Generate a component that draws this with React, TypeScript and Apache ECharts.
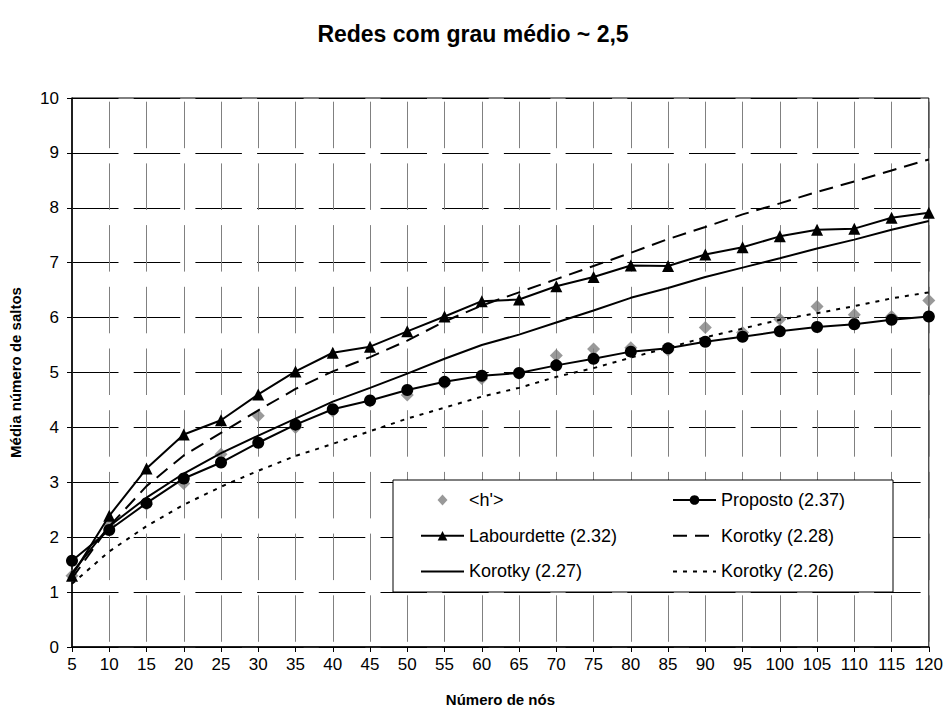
import React, { useEffect, useRef } from "react";
import * as echarts from "echarts";

// Network sizes (x axis)
const nodes = [5, 10, 15, 20, 25, 30, 35, 40, 45, 50, 55, 60, 65, 70, 75, 80, 85, 90, 95, 100, 105, 110, 115, 120];

// Average hop counts per method
const hPrime = [1.30, 2.23, 2.60, 2.98, 3.51, 4.21, 4.00, 4.30, 4.48, 4.59, 4.80, 4.89, 4.98, 5.31, 5.43, 5.45, 5.41, 5.82, 5.73, 5.97, 6.20, 6.05, 6.02, 6.31];
const proposto = [1.57, 2.13, 2.62, 3.07, 3.36, 3.72, 4.05, 4.33, 4.49, 4.68, 4.83, 4.94, 4.99, 5.13, 5.25, 5.38, 5.44, 5.56, 5.65, 5.75, 5.83, 5.88, 5.96, 6.02];
const labourdette = [1.30, 2.39, 3.25, 3.87, 4.13, 4.60, 5.02, 5.36, 5.47, 5.75, 6.02, 6.30, 6.33, 6.57, 6.74, 6.95, 6.94, 7.15, 7.28, 7.48, 7.60, 7.62, 7.82, 7.91];
const korotky228 = [1.25, 2.20, 2.93, 3.49, 3.90, 4.31, 4.70, 5.02, 5.28, 5.58, 5.93, 6.22, 6.46, 6.70, 6.94, 7.18, 7.43, 7.65, 7.88, 8.08, 8.29, 8.48, 8.68, 8.88];
const korotky227 = [1.35, 2.20, 2.72, 3.16, 3.53, 3.85, 4.16, 4.47, 4.72, 4.98, 5.25, 5.50, 5.69, 5.91, 6.13, 6.36, 6.54, 6.74, 6.91, 7.08, 7.26, 7.42, 7.60, 7.76];
const korotky226 = [1.15, 1.74, 2.20, 2.59, 2.92, 3.21, 3.48, 3.70, 3.93, 4.16, 4.36, 4.56, 4.72, 4.92, 5.08, 5.27, 5.45, 5.64, 5.80, 5.96, 6.08, 6.21, 6.35, 6.46];

const yTicks = [0, 1, 2, 3, 4, 5, 6, 7, 8, 9, 10];

const FONT = "'Liberation Sans', Arial, sans-serif";

// diamond legend sample; the corner specks stretch the bounding box to the full item size
const DIAMOND_ICON =
  "path://M0,0L0.01,0L0,0.01Z M43,12L42.99,12L43,11.99Z M16.5,6L21.5,0.5L26.5,6L21.5,11.5Z";

const pairs = (ys: number[]) => nodes.map((x, i) => [x, ys[i]]);

export default function App() {
  const ref = useRef<HTMLDivElement>(null);

  useEffect(() => {
    if (!ref.current) return;
    const chart = echarts.init(ref.current, undefined, { renderer: "svg" });

    const lineBase = {
      type: "line" as const,
      smooth: false,
      lineStyle: { color: "#000", width: 2 },
      itemStyle: { color: "#000" },
      z: 3,
    };

    const legendText = { fontFamily: FONT, fontSize: 18, color: "#000", lineHeight: 22 };
    // plain curves: hide the marker in the legend sample, keep the stroke
    const curveItem = (name: string) => ({ name, itemStyle: { opacity: 0 } });

    chart.setOption({
      animation: false,
      backgroundColor: "#fff",
      textStyle: { fontFamily: FONT },
      title: {
        text: "Redes com grau médio ~ 2,5",
        left: "center",
        top: 17,
        textStyle: { fontFamily: FONT, fontSize: 23, fontWeight: "bold", color: "#000" },
      },
      grid: {
        left: 72,
        right: 14,
        top: 98,
        bottom: 66,
        show: true,
        borderColor: "#000",
        borderWidth: 1,
        backgroundColor: "transparent",
      },
      xAxis: {
        type: "value",
        min: 5,
        max: 120,
        interval: 5,
        name: "Número de nós",
        nameLocation: "middle",
        nameGap: 45,
        nameTextStyle: { fontFamily: FONT, fontSize: 15, fontWeight: "bold", color: "#000" },
        axisLine: { lineStyle: { color: "#000", width: 1.5 } },
        axisTick: { show: true, inside: false, length: 5, lineStyle: { color: "#000" } },
        axisLabel: { fontFamily: FONT, fontSize: 17, color: "#000", margin: 9 },
        splitLine: {
          show: true,
          lineStyle: { color: "#808080", width: 1, type: [46.5, 15.2], dashOffset: 57.7 },
        },
      },
      yAxis: {
        type: "value",
        min: yTicks[0],
        max: yTicks[yTicks.length - 1],
        interval: 1,
        name: "Média número de saltos",
        nameLocation: "middle",
        nameGap: 49,
        nameTextStyle: { fontFamily: FONT, fontSize: 15, fontWeight: "bold", color: "#000" },
        axisLine: { show: true, lineStyle: { color: "#000", width: 1.5 } },
        axisTick: { show: true, inside: false, length: 5, lineStyle: { color: "#000" } },
        axisLabel: { fontFamily: FONT, fontSize: 17, color: "#000", margin: 13 },
        splitLine: {
          show: true,
          lineStyle: { color: "#000", width: 1, type: [46.5, 15.2], dashOffset: 0 },
        },
      },
      legend: [
        {
          orient: "vertical",
          left: 420,
          top: 489,
          padding: 0,
          itemWidth: 43,
          itemHeight: 12,
          itemGap: 13.7,
          z: 6,
          textStyle: legendText,
          data: [
            { name: "<h'>", icon: DIAMOND_ICON },
            "Labourdette (2.32)",
            curveItem("Korotky (2.27)"),
          ],
        },
        {
          orient: "vertical",
          left: 672,
          top: 489,
          padding: 0,
          itemWidth: 43,
          itemHeight: 12,
          itemGap: 13.7,
          z: 6,
          textStyle: legendText,
          data: ["Proposto (2.37)", curveItem("Korotky (2.28)"), curveItem("Korotky (2.26)")],
        },
      ],
      graphic: [
        {
          type: "rect",
          z: 5,
          shape: { x: 393, y: 480, width: 500, height: 112 },
          style: { fill: "#fff", stroke: "#000", lineWidth: 1 },
        },
      ],
      series: [
        {
          name: "<h'>",
          type: "scatter",
          data: pairs(hPrime),
          symbol: "diamond",
          symbolSize: 13,
          itemStyle: { color: "#808080" },
          z: 2,
        },
        {
          ...lineBase,
          name: "Korotky (2.27)",
          data: pairs(korotky227),
          symbol: "none",
        },
        {
          ...lineBase,
          name: "Korotky (2.28)",
          data: pairs(korotky228),
          symbol: "none",
          lineStyle: { color: "#000", width: 2, type: [14, 8] },
        },
        {
          ...lineBase,
          name: "Korotky (2.26)",
          data: pairs(korotky226),
          symbol: "none",
          lineStyle: { color: "#000", width: 2, type: [4, 6] },
        },
        {
          ...lineBase,
          name: "Labourdette (2.32)",
          data: pairs(labourdette),
          symbol: "triangle",
          symbolSize: 12,
          z: 4,
        },
        {
          ...lineBase,
          name: "Proposto (2.37)",
          data: pairs(proposto),
          symbol: "circle",
          symbolSize: 12,
          z: 4,
        },
      ],
    });

    return () => chart.dispose();
  }, []);

  return (
    <div
      ref={ref}
      style={{ position: "fixed", left: 0, top: 0, width: 946, height: 713, background: "#fff" }}
    />
  );
}
